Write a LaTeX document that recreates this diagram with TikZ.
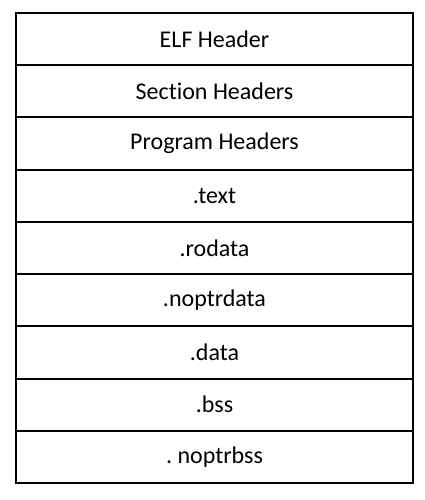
\documentclass[tikz,border=0pt]{standalone}
\usepackage{fontspec}
\setmainfont[Ligatures={NoCommon}]{Carlito}
\usetikzlibrary{positioning}

\begin{document}
\begin{tikzpicture}[x=1pt,y=1pt,line width=2pt]
\tikzset{sect/.style={rectangle,draw=black,minimum width=397pt,minimum height=52.22pt,inner sep=0pt,outer sep=0pt,font=\fontsize{24}{28}\selectfont\frenchspacing}}
\useasboundingbox (0,0) rectangle (425,500);
\node (elf)      at (214.5,460.89) [sect] {ELF Header};
\node (secthdr)  at (214.5,408.67) [sect] {Section Headers};
\node (proghdr)  at (214.5,356.44) [sect] {Program Headers};
\node (text)     at (214.5,304.22) [sect] {.text};
\node (rodata)   at (214.5,252.00) [sect] {.rodata};
\node (noptrdata) at (214.5,199.78) [sect] {.noptrdata};
\node (data)     at (214.5,147.56) [sect] {.data};
\node (bss)      at (214.5,95.33)  [sect] {.bss};
\node (noptrbss) at (214.5,43.11)  [sect] {. noptrbss};
\end{tikzpicture}
\end{document}
